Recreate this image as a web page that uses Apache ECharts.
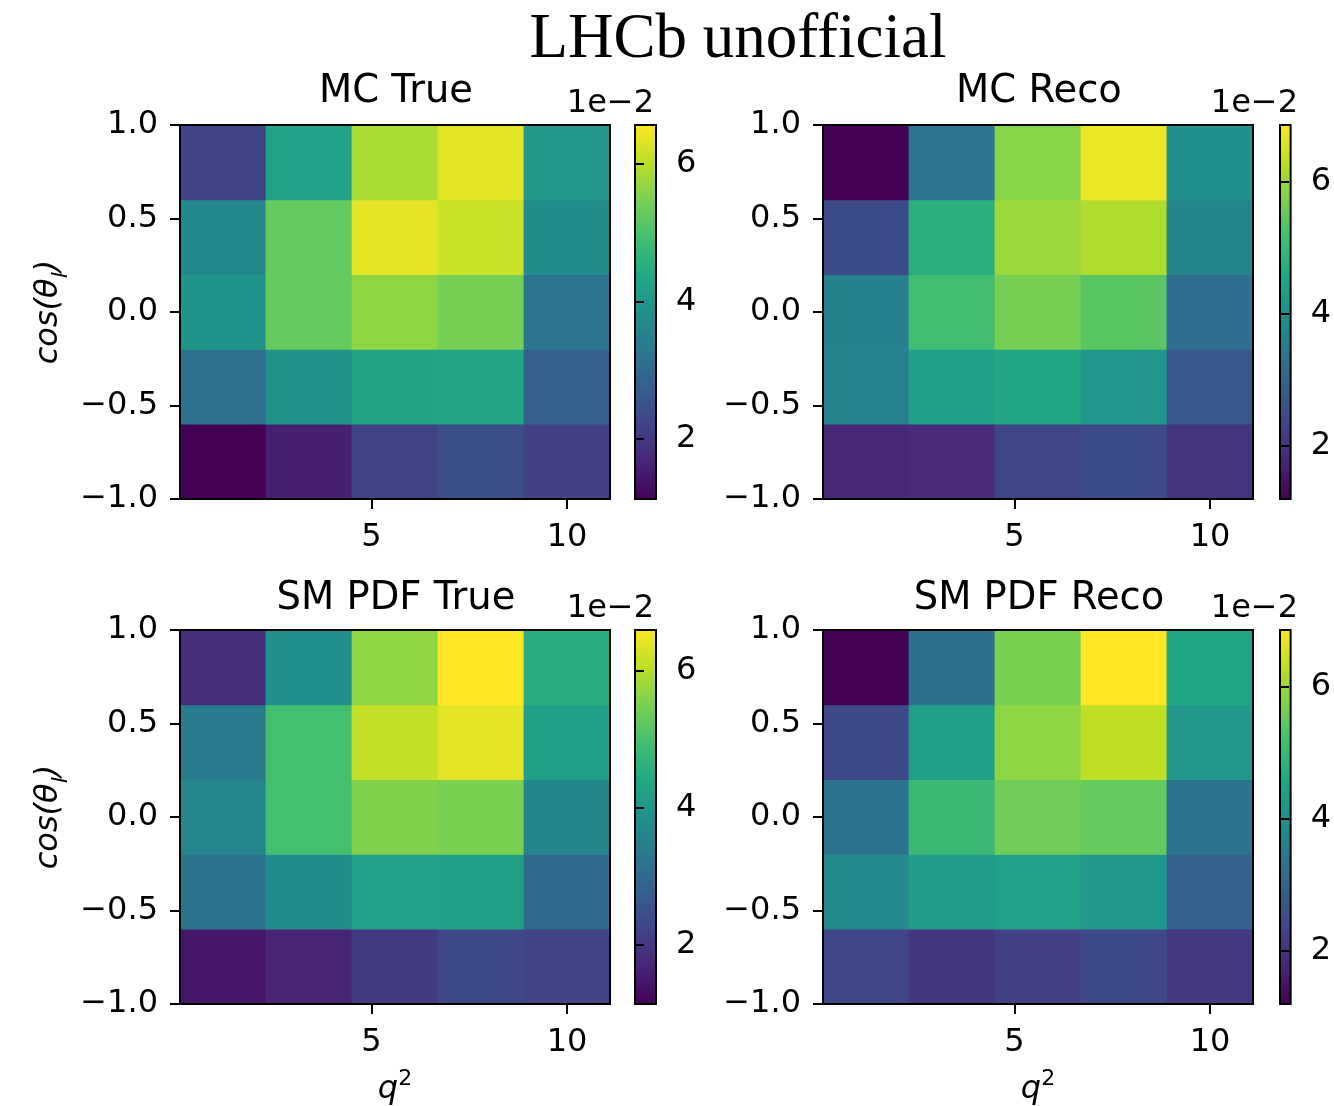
<!DOCTYPE html>
<html>
<head>
<meta charset="utf-8">
<script src="https://cdn.jsdelivr.net/npm/echarts@6/dist/echarts.min.js"></script>
<style>html,body{margin:0;padding:0;background:#fff}#c{width:1334px;height:1106px}</style>
</head>
<body>
<div id="c"></div>
<script>
// ---- data (values in units of 1e-2) ----
const q2Edges = [0.1, 2.3, 4.5, 6.7, 8.9, 11.1];
const cosEdges = [-1.0, -0.6, -0.2, 0.2, 0.6, 1.0];
const panelTitles = ['MC True', 'MC Reco', 'SM PDF True', 'SM PDF Reco'];
const xTickValues = [5, 10];
const cbTickValues = [2, 4, 6];
// rows from cos = -1 (bottom) to cos = +1 (top); columns q2 bins left to right
const mcTrue = [
  [1.12, 1.60, 2.20, 2.43, 2.16],
  [3.14, 3.90, 4.28, 4.30, 2.76],
  [3.95, 5.26, 5.64, 5.43, 3.25],
  [3.68, 5.26, 6.35, 6.13, 3.74],
  [2.20, 4.23, 5.86, 6.35, 4.00]
];
const mcReco = [
  [1.81, 1.87, 2.38, 2.49, 2.04],
  [3.68, 4.37, 4.54, 4.14, 2.72],
  [3.63, 5.10, 5.67, 5.39, 3.23],
  [2.49, 4.76, 6.01, 6.18, 3.74],
  [1.19, 3.40, 5.84, 6.69, 4.03]
];
const smTrue = [
  [1.46, 1.68, 2.06, 2.33, 2.22],
  [3.20, 3.75, 4.24, 4.22, 3.04],
  [3.64, 4.95, 5.55, 5.50, 3.59],
  [3.37, 4.95, 6.10, 6.37, 4.19],
  [1.84, 3.86, 5.66, 6.59, 4.52]
];
const smReco = [
  [2.39, 2.10, 2.27, 2.44, 2.16],
  [3.86, 4.30, 4.42, 4.19, 2.95],
  [3.35, 4.99, 5.61, 5.49, 3.35],
  [2.44, 4.36, 5.89, 6.29, 4.19],
  [1.20, 3.29, 5.72, 6.85, 4.48]
];
const cbMin = [1.12, 1.19, 1.13, 1.20];
const cbMax = [6.57, 6.86, 6.59, 6.85];

// ---- styling ----
const viridis = ['#440154','#482475','#414487','#355f8d','#2a788e','#21918c','#22a884','#44bf70','#7ad151','#bddf26','#fde725'];
const FONT = 'DejaVu Sans';
const panelData = [mcTrue, mcReco, smTrue, smReco];
const layout = [
  {plot:[180,125,430,374], cb:[635,125,21,374], cx:396},
  {plot:[823,125,430,374], cb:[1280,125,20,374], cx:1039},
  {plot:[180,630,430,374], cb:[635,630,21,374], cx:396},
  {plot:[823,630,430,374], cb:[1280,630,20,374], cx:1039}
];

const grid = [], xAxis = [], yAxis = [], series = [], visualMap = [];
const lineStyle = {color:'#000', width:2, cap:'square'};
const labelStyle = {color:'#000', fontSize:32, fontFamily:FONT};
const fmt = v => (v < 0 ? '\u2212' : '') + Math.abs(v).toFixed(1);

layout.forEach((L, i) => {
  grid.push({left:L.plot[0], top:L.plot[1], width:L.plot[2], height:L.plot[3], containLabel:false});
  grid.push({left:L.cb[0], top:L.cb[1], width:L.cb[2], height:L.cb[3], containLabel:false});
  const g = 2*i;
  // plot axes
  xAxis.push({type:'value', gridIndex:g, position:'bottom', min:q2Edges[0], max:q2Edges[5], z:10,
    axisLine:{show:true, onZero:false, lineStyle},
    axisTick:{show:true, length:10, customValues:xTickValues, lineStyle:{color:'#000', width:2}},
    axisLabel:{show:true, customValues:xTickValues, margin:23, ...labelStyle},
    splitLine:{show:false}});
  xAxis.push({type:'value', gridIndex:g, position:'top', min:q2Edges[0], max:q2Edges[5], z:10,
    axisLine:{show:true, onZero:false, lineStyle}, axisTick:{show:false}, axisLabel:{show:false}, splitLine:{show:false}});
  xAxis.push({type:'value', gridIndex:g+1, min:0, max:1, show:false});
  yAxis.push({type:'value', gridIndex:g, position:'left', min:-1, max:1, interval:0.5, z:10,
    axisLine:{show:true, onZero:false, lineStyle},
    axisTick:{show:true, length:10, lineStyle:{color:'#000', width:2}},
    axisLabel:{show:true, margin:22, formatter:fmt, padding:[4,0,0,0], ...labelStyle},
    splitLine:{show:false}});
  yAxis.push({type:'value', gridIndex:g, position:'right', min:-1, max:1, z:10,
    axisLine:{show:true, onZero:false, lineStyle}, axisTick:{show:false}, axisLabel:{show:false}, splitLine:{show:false}});
  yAxis.push({type:'value', gridIndex:g+1, position:'right', min:cbMin[i], max:cbMax[i], z:10,
    axisLine:{show:false},
    axisTick:{show:true, length:9, customValues:cbTickValues, lineStyle:{color:'#000', width:2}},
    axisLabel:{show:true, customValues:cbTickValues, margin:20, padding:[4,0,0,0], ...labelStyle},
    splitLine:{show:false}});

  // heatmap cells
  const cells = [];
  panelData[i].forEach((row, r) => row.forEach((v, c) => {
    cells.push([q2Edges[c], q2Edges[c+1], cosEdges[r], cosEdges[r+1], v]);
  }));
  visualMap.push({type:'continuous', show:false, seriesIndex:series.length, dimension:4,
    min:cbMin[i], max:cbMax[i], inRange:{color:viridis}});
  series.push({type:'custom', xAxisIndex:3*i, yAxisIndex:3*i, data:cells, encode:{x:[0,1], y:[2,3]},
    silent:true, clip:true,
    renderItem:(params, api) => {
      const p0 = api.coord([api.value(0), api.value(3)]);
      const p1 = api.coord([api.value(1), api.value(2)]);
      return {type:'rect', shape:{x:p0[0]-0.4, y:p0[1]-0.4, width:p1[0]-p0[0]+0.8, height:p1[1]-p0[1]+0.8},
        style:{fill:api.visual('color'), stroke:null}};
    }});
  // colorbar
  series.push({type:'custom', xAxisIndex:3*i+2, yAxisIndex:3*i+2, data:[[cbMin[i], cbMax[i]]], silent:true,
    renderItem:(params, api) => {
      const top = api.coord([0, api.value(1)]);
      const bot = api.coord([1, api.value(0)]);
      const stops = viridis.map((col, k) => ({offset:1 - k/(viridis.length-1), color:col})).reverse();
      return {type:'rect', shape:{x:top[0], y:top[1], width:bot[0]-top[0], height:bot[1]-top[1]},
        style:{fill:new echarts.graphic.LinearGradient(0,0,0,1, stops), stroke:'#000', lineWidth:2}};
    }});
});

// ---- texts ----
const txt = (text, x, y, size, align, extra) => Object.assign({type:'text', x, y, z:100, silent:true,
  style:Object.assign({text, fill:'#000', fontSize:size, fontFamily:FONT, align, textAlign:align,
    verticalAlign:'middle', textVerticalAlign:'middle'}, extra || {})});
const graphic = [];
graphic.push(txt('LHCb unofficial', 738, 40, 63, 'center', {fontFamily:"'Liberation Serif', serif"}));
layout.forEach((L, i) => {
  const dy = L.plot[1] - 125;
  graphic.push(txt(panelTitles[i], L.cx, 92 + dy + (i >= 2 ? 2 : 0), 38.5, 'center'));
  graphic.push(txt('1e\u22122', L.cb[0] + L.cb[2] - 2, 104 + dy, 32, 'right'));
});
const cosRich = {
  a:{fontSize:32, fontFamily:FONT, fontStyle:'italic', lineHeight:46, verticalAlign:'middle'},
  s:{fontSize:22, fontFamily:FONT, fontStyle:'italic', lineHeight:46, verticalAlign:'bottom'}
};
[312, 817].forEach(y => {
  const t = txt('{a|cos(\u03b8}{s|l}{a|)}', 49, y, 32, 'center', {rich:cosRich});
  t.rotation = Math.PI/2;
  graphic.push(t);
});
const qRich = {
  q:{fontSize:32, fontFamily:FONT, fontStyle:'italic', lineHeight:44, verticalAlign:'middle'},
  p:{fontSize:22, fontFamily:FONT, lineHeight:44, verticalAlign:'top'}
};
[395, 1038].forEach(x => graphic.push(txt('{q|q}{p|2}', x, 1090, 32, 'center', {rich:qRich})));

const chart = echarts.init(document.getElementById('c'), null, {renderer:'canvas'});
chart.setOption({animation:false, backgroundColor:'#fff', grid, xAxis, yAxis, visualMap, series, graphic});
</script>
</body>
</html>
